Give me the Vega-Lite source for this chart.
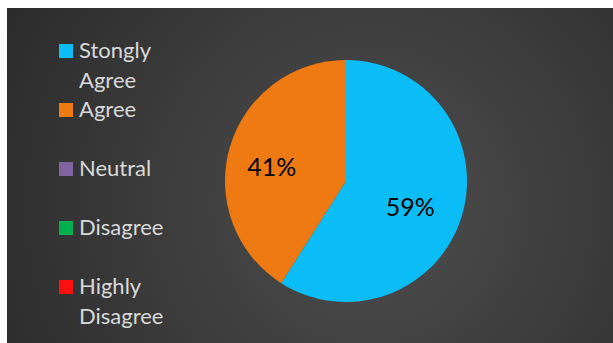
{
  "$schema": "https://vega.github.io/schema/vega-lite/v6.json",
  "width": 613,
  "height": 343,
  "autosize": {"type": "fit", "contains": "padding"},
  "padding": {"left": 7, "top": 8, "right": 0, "bottom": 0},
  "background": "#ffffff",
  "config": {"view": {"stroke": null}, "font": "Lato"},
  "data": {
    "values": [
      {"category": "Stongly Agree", "idx": 1, "value": 59, "label": "59%"},
      {"category": "Agree", "idx": 2, "value": 41, "label": "41%"},
      {"category": "Neutral", "idx": 3, "value": 0, "label": ""},
      {"category": "Disagree", "idx": 4, "value": 0, "label": ""},
      {"category": "Highly Disagree", "idx": 5, "value": 0, "label": ""}
    ]
  },
  "layer": [
    {
      "data": {"values": [{"bg": 1}]},
      "mark": {
        "type": "rect",
        "color": {
          "gradient": "radial",
          "x1": 0.6, "y1": 0.55, "r1": 0,
          "x2": 0.6, "y2": 0.55, "r2": 0.8,
          "stops": [
            {"offset": 0, "color": "#4e4e4e"},
            {"offset": 1, "color": "#252525"}
          ]
        }
      },
      "encoding": {}
    },
    {
      "mark": {"type": "arc", "outerRadius": 121},
      "encoding": {
        "x": {"value": 339},
        "y": {"value": 173},
        "theta": {"field": "value", "type": "quantitative", "stack": true},
        "order": {"field": "idx", "type": "quantitative"},
        "color": {
          "field": "category",
          "type": "nominal",
          "sort": ["Stongly Agree", "Agree", "Neutral", "Disagree", "Highly Disagree"],
          "scale": {
            "domain": ["Stongly Agree", "Agree", "Neutral", "Disagree", "Highly Disagree"],
            "range": ["#0bbdf7", "#ef7a12", "#8064a2", "#00b050", "#ff1010"]
          },
          "legend": {
            "title": null,
            "orient": "none",
            "legendX": 48,
            "legendY": 32,
            "symbolType": "square",
            "symbolSize": 196,
            "symbolStrokeWidth": 0,
            "labelFont": "Lato",
            "labelFontSize": 22,
            "labelColor": "#d9d9d9",
            "labelOffset": 2,
            "labelLimit": 200,
            "labelBaseline": "alphabetic",
            "rowPadding": 7,
            "gridAlign": "all",
            "labelExpr": "datum.label == 'Stongly Agree' ? ['Stongly', 'Agree'] : datum.label == 'Highly Disagree' ? ['Highly', 'Disagree'] : [datum.label, ' ']",
            "encode": {
              "labels": {"update": {"dy": {"value": 7}, "lineHeight": {"value": 29.5}}}
            }
          }
        }
      }
    },
    {
      "mark": {"type": "text", "radius": 72, "fontSize": 25, "font": "Lato", "color": "#000000", "dx": -5, "dy": 7},
      "encoding": {
        "x": {"value": 339},
        "y": {"value": 173},
        "theta": {"field": "value", "type": "quantitative", "stack": true},
        "order": {"field": "idx", "type": "quantitative"},
        "text": {"field": "label"}
      }
    }
  ]
}
